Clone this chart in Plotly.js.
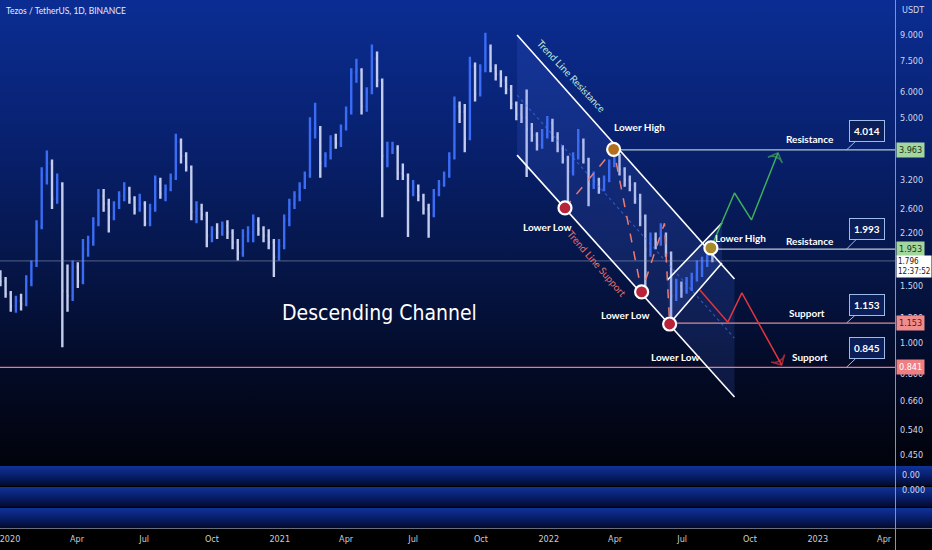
<!DOCTYPE html>
<html><head><meta charset="utf-8">
<script src="https://cdn.plot.ly/plotly-3.0.1.min.js"></script>
<style>
html,body{margin:0;padding:0;background:#000;}
#wrap{position:relative;width:932px;height:550px;overflow:hidden;}
.band{position:absolute;left:0;width:932px;}
#chart{position:absolute;left:0;top:0;width:932px;height:550px;}
</style></head>
<body><div id="wrap">
<div class="band" style="top:0;height:466px;background:linear-gradient(to bottom,#0b2d93 0%,#08216f 30%,#051546 58%,#030a25 80%,#01030b 100%)"></div>
<div class="band" style="top:466px;height:20px;background:linear-gradient(to bottom,#0f3399,#071c66 55%,#030a2a)"></div>
<div class="band" style="top:487px;height:20px;background:linear-gradient(to bottom,#0f3399,#071c66 55%,#030a2a)"></div>
<div class="band" style="top:508px;height:20px;background:linear-gradient(to bottom,#0f3399,#071c66 55%,#030a2a)"></div>
<div class="band" style="top:528px;height:1px;background:#6a6e7a"></div>
<div class="band" style="top:529px;height:21px;background:#000"></div>
<div class="band" style="left:895px;width:1px;top:0;height:550px;background:#8a92ad"></div>
<div id="chart"></div>
</div>
<script>
const FONT = "Lato, 'DejaVu Sans Condensed', sans-serif";
const FONT2 = "'DejaVu Sans Condensed', 'DejaVu Sans', sans-serif";

// Weekly candles (week centre dates)
const dates = ['2019-12-19','2019-12-26',
'2020-01-02','2020-01-09','2020-01-16','2020-01-23','2020-01-30','2020-02-06','2020-02-13','2020-02-20','2020-02-27','2020-03-05','2020-03-12','2020-03-19','2020-03-26','2020-04-02','2020-04-09','2020-04-16','2020-04-23','2020-04-30','2020-05-07','2020-05-14','2020-05-21','2020-05-28','2020-06-04','2020-06-11','2020-06-18','2020-06-25','2020-07-02','2020-07-09','2020-07-16','2020-07-23','2020-07-30','2020-08-06','2020-08-13','2020-08-20','2020-08-27','2020-09-03','2020-09-10','2020-09-17','2020-09-24','2020-10-01','2020-10-08','2020-10-15','2020-10-22','2020-10-29','2020-11-05','2020-11-12','2020-11-19','2020-11-26','2020-12-03','2020-12-10','2020-12-17','2020-12-24','2020-12-31',
'2021-01-07','2021-01-14','2021-01-21','2021-01-28','2021-02-04','2021-02-11','2021-02-18','2021-02-25','2021-03-04','2021-03-11','2021-03-18','2021-03-25','2021-04-01','2021-04-08','2021-04-15','2021-04-22','2021-04-29','2021-05-06','2021-05-13','2021-05-20','2021-05-27','2021-06-03','2021-06-10','2021-06-17','2021-06-24','2021-07-01','2021-07-08','2021-07-15','2021-07-22','2021-07-29','2021-08-05','2021-08-12','2021-08-19','2021-08-26','2021-09-02','2021-09-09','2021-09-16','2021-09-23','2021-09-30','2021-10-07','2021-10-14','2021-10-21','2021-10-28','2021-11-04','2021-11-11','2021-11-18','2021-11-25','2021-12-02','2021-12-09','2021-12-16','2021-12-23','2021-12-30',
'2022-01-06','2022-01-13','2022-01-20','2022-01-27','2022-02-03','2022-02-10','2022-02-17','2022-02-24','2022-03-03','2022-03-10','2022-03-17','2022-03-24','2022-03-31','2022-04-07','2022-04-14','2022-04-21','2022-04-28','2022-05-05','2022-05-12','2022-05-19','2022-05-26','2022-06-02','2022-06-09','2022-06-16','2022-06-23','2022-06-30','2022-07-07','2022-07-14','2022-07-21','2022-07-28','2022-08-04','2022-08-11'];

const open = [1.62,1.55,1.42,1.30,1.35,1.32,1.55,1.75,2.30,3.30,
3.60,2.80,3.10,1.45,1.40,1.72,1.55,1.95,2.05,2.35,
2.85,2.70,2.45,2.70,2.85,3.00,2.80,2.60,2.70,2.35,
2.60,3.15,2.90,3.00,3.25,4.20,3.80,3.50,2.55,2.60,
2.50,2.15,2.25,2.20,2.30,2.20,2.05,1.90,2.15,2.20,
2.40,2.25,2.15,2.05,1.85,2.00,2.40,2.70,2.85,3.05,
3.30,4.60,4.60,3.60,3.80,4.30,4.15,4.65,5.20,6.90,
7.00,5.40,6.00,7.60,6.50,3.80,3.95,4.00,3.35,3.30,
2.95,3.05,2.85,2.60,2.50,2.90,3.10,3.30,3.75,5.40,
5.20,4.30,7.20,5.90,7.00,8.20,7.10,6.80,6.50,6.10,
5.50,5.10,5.00,4.60,4.40,4.10,4.40,4.80,4.35,4.00,
3.70,3.40,3.80,4.20,3.70,3.10,3.20,3.00,3.20,3.60,
3.80,3.45,3.20,3.10,2.80,2.45,1.95,2.10,2.05,2.15,
1.90,1.40,1.50,1.45,1.55,1.60,1.70,1.78,1.88];
const high = [1.68,1.60,1.45,1.40,1.42,1.62,1.80,2.40,3.50,3.95,
3.70,3.35,3.15,1.75,1.80,1.78,2.10,2.15,2.45,3.00,
3.00,2.80,2.75,2.95,3.15,3.05,2.85,2.90,2.75,2.70,
3.30,3.25,3.10,3.35,4.45,4.30,3.90,3.55,2.75,2.70,
2.55,2.30,2.35,2.38,2.40,2.25,2.10,2.25,2.30,2.50,
2.45,2.30,2.25,2.10,2.10,2.50,2.80,2.95,3.15,3.40,
5.00,5.55,4.70,3.90,4.40,4.45,4.75,5.40,7.10,7.60,
7.10,6.20,8.40,8.00,6.60,4.20,4.20,4.10,3.60,3.35,
3.20,3.10,2.90,2.70,3.00,3.20,3.40,3.90,5.80,5.60,
5.50,7.70,7.40,7.30,9.15,8.40,7.30,7.00,6.70,6.30,
5.60,5.50,6.10,4.80,4.50,4.60,5.05,4.95,4.50,4.10,
3.80,3.90,4.60,4.30,3.75,3.40,3.25,3.30,3.70,4.05,
3.85,3.50,3.30,3.15,2.90,2.50,2.20,2.20,2.35,2.20,
1.92,1.58,1.55,1.60,1.65,1.80,1.85,1.95,2.00];
const low = [1.50,1.38,1.25,1.24,1.26,1.30,1.50,1.72,2.25,3.10,
2.60,2.70,0.97,1.25,1.35,1.48,1.52,1.85,2.00,2.30,
2.55,2.20,2.40,2.60,2.75,2.70,2.50,2.55,2.30,2.30,
2.55,2.80,2.75,2.95,3.20,3.60,3.40,2.40,2.35,2.40,
1.98,2.05,2.10,2.15,2.10,1.95,1.80,1.85,2.05,2.05,
2.15,2.05,1.95,1.60,1.80,1.95,2.30,2.60,2.75,3.00,
3.25,4.30,3.25,3.50,3.70,4.00,4.05,4.55,5.10,6.40,
5.10,5.20,5.90,6.20,2.45,3.50,3.85,3.20,3.20,2.13,
2.85,2.75,2.50,2.12,2.45,2.85,3.05,3.25,3.70,4.80,
3.90,4.25,5.60,5.80,6.90,6.90,6.50,6.20,5.90,5.30,
4.90,4.80,3.27,4.20,3.95,4.00,4.30,4.20,3.90,3.60,
2.65,3.30,3.70,3.60,2.65,3.00,2.90,2.95,3.15,3.50,
3.30,3.05,2.95,2.70,2.30,1.45,1.85,1.95,2.00,1.85,
1.20,1.35,1.38,1.42,1.45,1.55,1.60,1.72,1.78];
const close = [1.55,1.42,1.30,1.35,1.32,1.55,1.75,2.30,3.30,3.60,
2.80,3.10,1.45,1.40,1.72,1.55,1.95,2.05,2.35,2.85,
2.70,2.45,2.70,2.85,3.00,2.80,2.60,2.70,2.35,2.60,
3.15,2.90,3.00,3.25,4.20,3.80,3.50,2.55,2.60,2.50,
2.15,2.25,2.20,2.30,2.20,2.05,1.90,2.15,2.20,2.40,
2.25,2.15,2.05,1.85,2.00,2.40,2.70,2.85,3.05,3.30,
4.60,4.60,3.60,3.80,4.30,4.15,4.65,5.20,6.90,7.00,
5.40,6.00,7.60,6.50,3.80,3.95,4.00,3.35,3.30,2.95,
3.05,2.85,2.60,2.50,2.90,3.10,3.30,3.75,5.40,5.20,
4.30,7.20,5.90,7.00,8.20,7.10,6.80,6.50,6.10,5.50,
5.10,5.00,4.60,4.40,4.10,4.40,4.80,4.35,4.00,3.70,
3.40,3.80,4.20,3.70,3.10,3.20,3.00,3.20,3.60,3.80,
3.45,3.20,3.10,2.80,2.45,1.95,2.10,2.05,2.15,1.90,
1.40,1.50,1.45,1.55,1.60,1.70,1.78,1.88,1.796];

// Drawings (dates / prices)
const xRange = ['2019-12-18 10:00','2023-04-15 19:00'];
const chanDates = ['2021-11-19','2022-09-10'];
const chanUpper = [9.0, 1.578];
const chanLower = [3.82, 0.680];
const chanMid = [5.86, 1.036];
const flagUpDates = ['2022-06-11','2022-08-24'];
const flagUp = [1.567, 2.353];
const flagLoDates = ['2022-06-14','2022-08-24'];
const flagLo = [1.15, 1.77];
const pivotDates = ['2022-01-23','2022-03-30','2022-05-07','2022-06-14','2022-08-09'];
const pivotPrices = [2.62, 3.98, 1.44, 1.145, 1.97];
const pivotColors = ['#b8233a','#b36f1c','#b8233a','#b8233a','#a8892c'];
const zigDates = ['2022-01-23','2022-03-30','2022-05-07','2022-06-07','2022-06-14'];
const zigPrices = [2.62, 3.98, 1.44, 2.35, 1.145];
const bullDates = ['2022-08-09','2022-09-10','2022-10-03','2022-11-08'];
const bullPrices = [1.97, 2.915, 2.405, 3.88];
const bearDates = ['2022-07-25','2022-09-01','2022-09-20','2022-11-13'];
const bearPrices = [1.46, 1.16, 1.43, 0.855];
const levelStart = ['2022-03-30','2022-08-09','2022-06-14', xRange[0]];
const levelPrices = [3.963, 1.953, 1.153, 0.841];
const levelColors = ['#b4c6cc','#c2cad8','#d98a98','#e07e8e'];
const lastPrice = 1.796;
const calloutDate = '2023-02-09';
const calloutTexts = ['4.014','1.993','1.153','0.845'];
const tagTexts = ['Resistance','Resistance','Support','Support'];
const tagDates = ['2022-12-21','2022-12-22','2022-12-18','2022-12-21'];
const tagPrices = [4.285, 2.07, 1.239, 0.905];
const pivotLabels = ['Lower Low','Lower High','Lower Low','Lower Low','Lower High'];
const pivotLabelDates = ['2021-12-29','2022-05-04','2022-04-14','2022-06-21','2022-09-18'];
const pivotLabelPrices = [2.287, 4.67, 1.221, 0.905, 2.115];
const tickVals = [9,7.5,6,5,3.2,2.6,2.2,1.5,1.2,1.0,0.8,0.66,0.54,0.45];
const tickText = ['9.000','7.500','6.000','5.000','3.200','2.600','2.200','1.500','1.200','1.000','0.800','0.660','0.540','0.450'];
const xTickVals = ['2020-01-01','2020-04-01','2020-07-01','2020-10-01','2021-01-01','2021-04-01','2021-07-01','2021-10-01','2022-01-01','2022-04-01','2022-07-01','2022-10-01','2023-01-01','2023-04-01'];
const xTickText = ['2020','Apr','Jul','Oct','2021','Apr','Jul','Oct','2022','Apr','Jul','Oct','2023','Apr'];

const L = Math.log10;
const traces = [];
traces.push({x:[chanDates[0],chanDates[1],chanDates[1],chanDates[0],chanDates[0]],
  y:[chanUpper[0],chanUpper[1],chanLower[1],chanLower[0],chanUpper[0]],
  mode:'lines',fill:'toself',fillcolor:'rgba(75,115,235,0.16)',line:{width:0},hoverinfo:'skip'});
traces.push({x:[flagLoDates[0],flagUpDates[0],flagUpDates[1],flagLoDates[1],flagLoDates[0]],
  y:[flagLo[0],flagUp[0],flagUp[1],flagLo[1],flagLo[0]],
  mode:'lines',fill:'toself',fillcolor:'rgba(75,115,235,0.16)',line:{width:0},hoverinfo:'skip'});
traces.push({x:chanDates,y:chanMid,mode:'lines',line:{color:'rgba(70,120,255,0.6)',width:1.1,dash:'dot'}});
traces.push({x:xRange,y:[lastPrice,lastPrice],mode:'lines',line:{color:'rgba(150,160,190,0.55)',width:1}});
for(let i=0;i<levelPrices.length;i++){
  traces.push({x:[levelStart[i],xRange[1]],y:[levelPrices[i],levelPrices[i]],mode:'lines',line:{color:levelColors[i],width:1.2}});
}
traces.push({type:'ohlc',x:dates,open:open,high:high,low:low,close:close,tickwidth:0.25,
  increasing:{line:{color:'#3a6cf6',width:2.4}},
  decreasing:{line:{color:'#c5cdee',width:2.4}},hoverinfo:'skip'});
traces.push({x:chanDates,y:chanUpper,mode:'lines',line:{color:'#ffffff',width:1.6}});
traces.push({x:chanDates,y:chanLower,mode:'lines',line:{color:'#ffffff',width:1.6}});
traces.push({x:flagUpDates,y:flagUp,mode:'lines',line:{color:'#ffffff',width:1.6}});
traces.push({x:flagLoDates,y:flagLo,mode:'lines',line:{color:'#ffffff',width:1.6}});
traces.push({x:zigDates,y:zigPrices,mode:'lines',line:{color:'#f07a6e',width:1.5,dash:'dash'}});
traces.push({x:bullDates,y:bullPrices,mode:'lines+markers',line:{color:'#3fae5a',width:1.5},
  marker:{symbol:'arrow-wide-open',size:[0,0,0,11],color:'#3fae5a',angleref:'previous',line:{width:1.5,color:'#3fae5a'}}});
traces.push({x:bearDates,y:bearPrices,mode:'lines+markers',line:{color:'#e0363e',width:1.5},
  marker:{symbol:'arrow-wide-open',size:[0,0,0,11],color:'#e0363e',angleref:'previous',line:{width:1.5,color:'#e0363e'}}});
traces.push({x:pivotDates,y:pivotPrices,mode:'markers',marker:{size:13,color:pivotColors,line:{color:'#ffffff',width:2.2}}});

const ann = [];
const lab = (txt,d,p,extra)=>Object.assign({text:txt,x:d,y:L(p),xref:'x',yref:'y',showarrow:false,
  font:{family:FONT,size:10,color:'#ffffff',weight:'bold'}},extra||{});
for(let i=0;i<pivotLabels.length;i++) ann.push(lab(pivotLabels[i],pivotLabelDates[i],pivotLabelPrices[i]));
for(let i=0;i<tagTexts.length;i++) ann.push(lab(tagTexts[i],tagDates[i],tagPrices[i]));
ann.push(lab('Trend Line Resistance','2022-02-01',6.72,{textangle:47,font:{family:FONT,size:10,color:'#bfe8da'}}));
ann.push(lab('Trend Line Support','2022-03-08',1.757,{textangle:49,font:{family:FONT,size:10,color:'#ec7068'}}));
ann.push(lab('Descending Channel','2021-05-17',1.239,{font:{family:FONT2,size:21,color:'#ffffff'}}));
const cAy = [-19,-20,-18,-19];
for(let i=0;i<calloutTexts.length;i++){
  ann.push({text:calloutTexts[i],x:calloutDate,y:L(levelPrices[i]),xref:'x',yref:'y',showarrow:true,
    ax:20,ay:cAy[i],arrowhead:0,arrowwidth:1,arrowcolor:'#9dbbea',standoff:0,
    bgcolor:'#0c1e58',bordercolor:'#9dbbea',borderwidth:1,borderpad:4,
    font:{family:FONT,size:10,color:'#ffffff',weight:'bold'}});
}
const tagBg = ['#a3d69d','#a3d69d','#f08c8c','#f07f84'];
const tagFg = ['#17331a','#17331a','#6a0f14','#ffffff'];
for(let i=0;i<levelPrices.length;i++){
  ann.push({text:levelPrices[i].toFixed(3),x:1.0012,xref:'paper',y:L(levelPrices[i]),yref:'y',xanchor:'left',yanchor:'middle',
    showarrow:false,bgcolor:tagBg[i],borderpad:2,font:{family:FONT2,size:9,color:tagFg[i]}});
}
ann.push({text:lastPrice.toFixed(3)+'<br>12:37:52',x:1.0012,xref:'paper',y:L(1.873),yref:'y',xanchor:'left',yanchor:'top',
  align:'left',showarrow:false,bgcolor:'#ffffff',borderpad:1,font:{family:FONT2,size:8,color:'#131722'}});
const paperTxt = (t,xp,py,col,f,s)=>({text:t,x:xp,y:1-py/528,xref:'paper',yref:'paper',xanchor:'left',yanchor:'middle',showarrow:false,
  font:{family:f,size:s,color:col}});
ann.push(paperTxt('Tezos / TetherUS, 1D, BINANCE',0.0045,11,'#e6ebff',FONT,8.5));
ann.push(paperTxt('USDT',1.0056,10,'#d0d6ea',FONT2,9));
ann.push(paperTxt('0.00',1.0056,475,'#d0d6ea',FONT2,9));
ann.push(paperTxt('0.000',1.0056,490,'#d0d6ea',FONT2,9));

const layout = {
  width:932,height:550,margin:{l:0,r:37,t:0,b:22},
  paper_bgcolor:'rgba(0,0,0,0)',plot_bgcolor:'rgba(0,0,0,0)',showlegend:false,
  xaxis:{type:'date',range:xRange,anchor:'free',position:0,showgrid:false,zeroline:false,showline:false,ticks:'',
    tickvals:xTickVals,ticktext:xTickText,ticklabeloverflow:'allow',ticklabelstandoff:4,
    tickfont:{family:FONT2,size:9,color:'#c9cdd8'},rangeslider:{visible:false},fixedrange:true},
  yaxis:{type:'log',range:[-0.3779,1.0625],domain:[63/528,1],side:'right',showgrid:false,zeroline:false,showline:false,ticks:'',
    tickvals:tickVals,ticktext:tickText,ticklabelstandoff:4,tickfont:{family:FONT2,size:9,color:'#d0d6ea'},fixedrange:true},
  annotations:ann
};
Plotly.newPlot('chart',traces,layout,{displayModeBar:false,staticPlot:true});
</script>
</body></html>
